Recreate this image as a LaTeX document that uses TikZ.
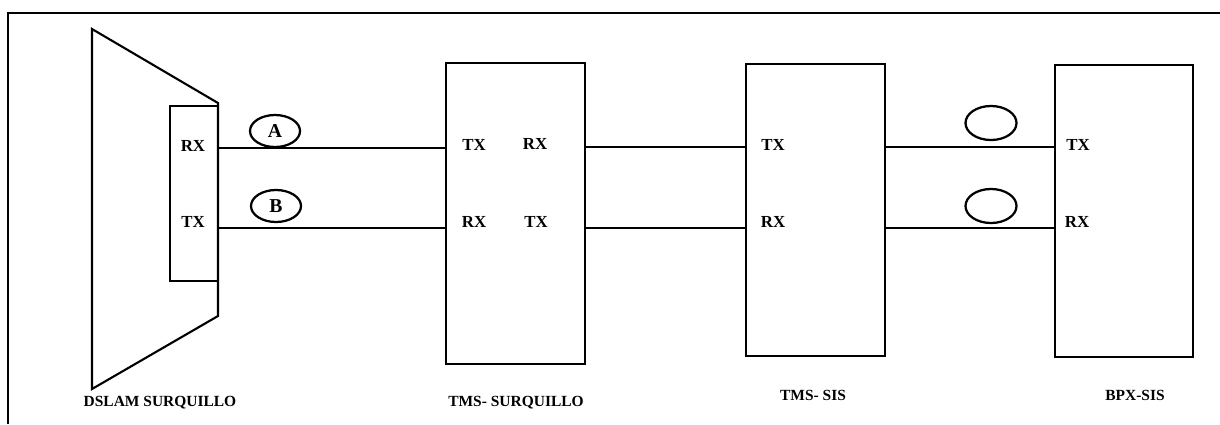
\documentclass[tikz,border=0pt]{standalone}
\usepackage{fontspec}
\setmainfont{Liberation Serif}
\usepackage{tikz}
\usetikzlibrary{shapes.geometric}
\tikzset{
  equip/.style={draw, line width=1.5pt, inner sep=0pt},
  port/.style={font=\fontsize{12}{14}\selectfont\bfseries, inner sep=1pt},
  tag/.style={draw, ellipse, line width=1.6pt, inner sep=0pt, font=\fontsize{14}{16}\selectfont\bfseries},
  title/.style={font=\fontsize{11}{13}\selectfont\bfseries, inner sep=1pt},
  link/.style={line width=1.5pt}
}

\begin{document}
\begin{tikzpicture}[x=0.025cm, y=-0.025cm]
  \useasboundingbox (0,0) rectangle (1220,424);
  % outer frame (cut at right and bottom)
  \draw[line width=1.5pt] (8,424) -- (8,13) -- (1220,13);

  % DSLAM body and port card
  \draw[line width=1.5pt] (92,29) -- (218,103) -- (218,316) -- (92,389) -- cycle;
  \node[equip, minimum width=1.2cm, minimum height=4.375cm] (card) at (194,193.5) {};
  \node[port] (cardrx) at (193,146) {RX};
  \node[port] (cardtx) at (193,222) {TX};

  % equipment boxes
  \node[equip, minimum width=3.475cm, minimum height=7.525cm] (tmssur) at (515.5,213.5) {};
  \node[equip, minimum width=3.475cm, minimum height=7.3cm] (tmssis) at (815.5,210) {};
  \node[equip, minimum width=3.45cm, minimum height=7.3cm] (bpxsis) at (1124,211) {};

  \node[port] (surtxa) at (474,145) {TX};
  \node[port] (surrxa) at (535,144) {RX};
  \node[port] (surrxb) at (474,222) {RX};
  \node[port] (surtxb) at (536,222) {TX};
  \node[port] (sistx) at (773,145) {TX};
  \node[port] (sisrx) at (773,222) {RX};
  \node[port] (bpxtx) at (1078,145) {TX};
  \node[port] (bpxrx) at (1077,222) {RX};

  % links
  \draw[link] (card.east |- 0,148) -- (tmssur.west |- 0,148);
  \draw[link] (card.east |- 0,228) -- (tmssur.west |- 0,228);
  \draw[link] (tmssur.east |- 0,147) -- (tmssis.west |- 0,147);
  \draw[link] (tmssur.east |- 0,228) -- (tmssis.west |- 0,228);
  \draw[link] (tmssis.east |- 0,147) -- (bpxsis.west |- 0,147);
  \draw[link] (tmssis.east |- 0,228) -- (bpxsis.west |- 0,228);

  % link markers
  \node[tag, minimum width=1.25cm, minimum height=0.8cm] (tagA) at (275,131) {A};
  \node[tag, minimum width=1.25cm, minimum height=0.8cm] (tagB) at (276,206) {B};
  \node[tag, minimum width=1.275cm, minimum height=0.85cm] (tagC) at (991,123) {};
  \node[tag, minimum width=1.275cm, minimum height=0.85cm] (tagD) at (991,206) {};

  % captions
  \node[title] (capdslam) at (160,403) {DSLAM SURQUILLO};
  \node[title] (capsur) at (516,403) {TMS- SURQUILLO};
  \node[title] (capsis) at (813,395) {TMS- SIS};
  \node[title] (capbpx) at (1135,395) {BPX-SIS};
\end{tikzpicture}
\end{document}
